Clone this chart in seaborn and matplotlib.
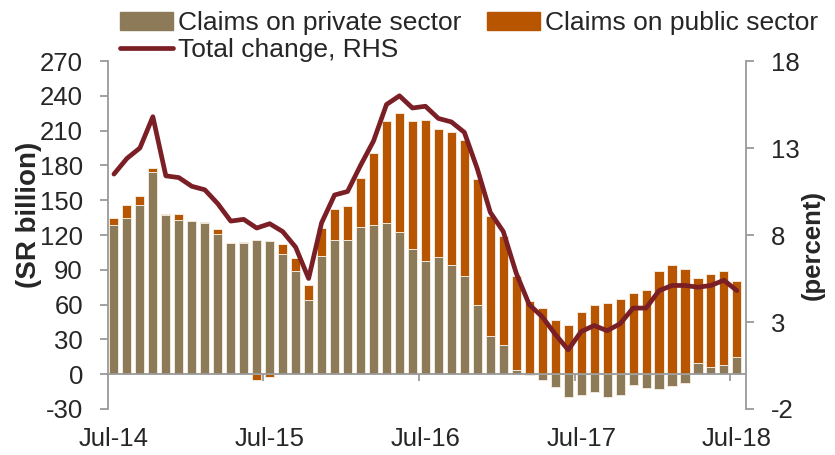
import numpy as np
import pandas as pd
import seaborn as sns
from matplotlib import pyplot as plt
from matplotlib.ticker import FixedLocator
from matplotlib.patches import Patch
from matplotlib.lines import Line2D

# monthly data, Jul-14 .. Jul-18
months = pd.date_range("2014-07-01", periods=49, freq="MS").strftime("%b-%y").tolist()

private = [129, 135, 146, 174, 137, 133, 132, 130, 121, 113, 113, 116, 115,
           104, 89, 64, 102, 116, 116, 127, 129, 130, 123, 108, 98, 101, 94,
           85, 60, 33, 25, 4, -1, -5, -11, -20, -18, -15, -20, -18, -9, -12,
           -13, -10, -8, 10, 6, 8, 15]
public = [6, 11, 8, 4, 1, 5, 0.5, 1, 4, 0.5, 1, -5, -2, 8, 11, 13, 24, 26,
          29, 42, 62, 88, 102, 110, 121, 110, 115, 117, 108, 103, 94, 81, 63,
          57, 47, 42, 54, 60, 61, 65, 70, 73, 89, 94, 91, 73, 80, 81, 65]
total_change = [11.5, 12.4, 13.0, 14.8, 11.4, 11.3, 10.8, 10.6, 9.8, 8.8, 8.9,
                8.4, 8.65, 8.2, 7.3, 5.5, 8.7, 10.3, 10.5, 12.0, 13.4, 15.5,
                16.0, 15.3, 15.4, 14.7, 14.5, 13.9, 11.8, 9.3, 8.2, 5.8, 4.0,
                3.3, 2.3, 1.4, 2.45, 2.8, 2.5, 2.9, 3.8, 3.8, 4.8, 5.1, 5.1,
                5.0, 5.1, 5.4, 4.8]
tick_labels = ["Jul-14", "Jul-15", "Jul-16", "Jul-17", "Jul-18"]

c_priv = "#8C7A58"
c_pub = "#B85500"
c_line = "#7B1F26"
c_axis = "#9A9A9A"

sns.set_style("white")
plt.rcParams["font.family"] = ["Liberation Sans", "DejaVu Sans"]
plt.rcParams["axes.unicode_minus"] = False
fs = 18.5

priv = np.array(private, dtype=float)
pub = np.array(public, dtype=float)
# excel-style stacking: positives on positives, negatives on negatives
pub_end = np.where(pub >= 0, np.maximum(priv, 0) + pub, np.minimum(priv, 0) + pub)

df = pd.DataFrame({"month": months, "private": priv, "stack": pub_end,
                   "change": total_change, "pos": np.arange(len(months))})

fig = plt.figure(figsize=(8.35, 4.55), dpi=100)
ax = fig.add_axes([0.1293, 0.1011, 0.8934 - 0.1293, 0.8659 - 0.1011])

sns.barplot(data=df, x="month", y="stack", color=c_pub, saturation=1, width=0.7,
            edgecolor="#F2E8DA", linewidth=0.7, ax=ax)
sns.barplot(data=df, x="month", y="private", color=c_priv, saturation=1, width=0.7,
            edgecolor="#F2E8DA", linewidth=0.7, ax=ax)

ax.set_ylim(-30, 270)
ax.set_yticks(np.arange(-30, 271, 30))
ax.set_xlim(-0.46, 48.7)

ax2 = ax.twinx()
sns.lineplot(data=df, x="pos", y="change", color=c_line, lw=3.4, ax=ax2)
for ln in ax2.get_lines():
    ln.set_solid_joinstyle("round")
    ln.set_solid_capstyle("round")
ax2.set_ylim(-2, 18)
ax2.set_yticks([-2, 3, 8, 13, 18])
ax2.set_xlim(-0.46, 48.7)

# spines / ticks
for a in (ax, ax2):
    a.spines["top"].set_visible(False)
    a.spines["left"].set_color(c_axis)
    a.spines["right"].set_color(c_axis)
    a.spines["left"].set_linewidth(1.3)
    a.spines["right"].set_linewidth(1.3)
ax.spines["right"].set_visible(False)
ax2.spines["left"].set_visible(False)
ax2.spines["bottom"].set_visible(False)
ax.spines["bottom"].set_position(("data", 0))
ax.spines["bottom"].set_color(c_axis)
ax.spines["bottom"].set_linewidth(1.3)

ax.tick_params(axis="y", direction="out", length=6, width=1.3, color=c_axis,
               labelsize=fs, pad=12, left=True)
ax2.tick_params(axis="y", direction="out", length=6, width=1.3, color=c_axis,
                labelsize=fs, pad=12, right=True)

label_pos = [0, 12, 24, 36, 48]
ax.set_xticks(label_pos)
ax.set_xticklabels(tick_labels)
ax.xaxis.set_minor_locator(FixedLocator([p - 0.5 for p in label_pos]))
ax.tick_params(axis="x", which="major", length=0, labelsize=fs, pad=38)
ax.tick_params(axis="x", which="minor", direction="out", length=5, width=1.3,
               color=c_axis, bottom=True)

ax.set_xlabel("")
ax.set_ylabel("(SR billion)", fontsize=20, fontweight="bold")
ax.yaxis.set_label_coords(-0.103, 0.557)
ax2.set_xlabel("")
ax2.set_ylabel("(percent)", fontsize=18.5, fontweight="bold", rotation=90)
ax2.yaxis.set_label_coords(1.086, 0.47)

# legend
handles = [Patch(color=c_priv), Line2D([], [], color=c_line, lw=3.4), Patch(color=c_pub)]
labels = ["Claims on private sector", "Total change, RHS", "Claims on public sector"]
fig.legend(handles, labels, ncol=2, loc="upper left", bbox_to_anchor=(0.122, 1.016),
           frameon=False, fontsize=19, handlelength=2.0, handletextpad=0.2,
           columnspacing=0.95, labelspacing=0.1, borderpad=0.2)

fig.savefig("out.png", dpi=100)
